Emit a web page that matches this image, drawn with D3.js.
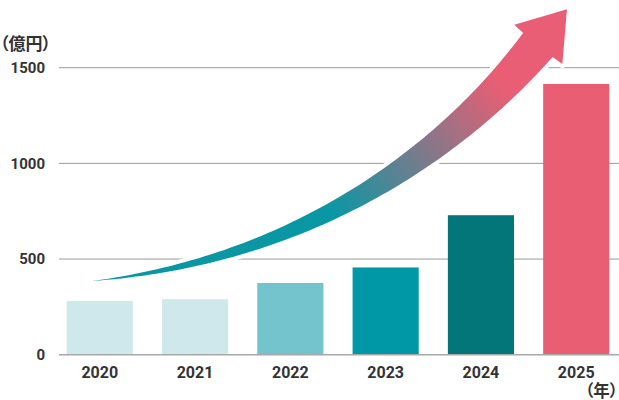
<!DOCTYPE html>
<html>
<head>
<meta charset="utf-8">
<script src="https://cdn.jsdelivr.net/npm/d3@7"></script>
<style>
  html, body { margin: 0; padding: 0; background: #fff; }
  svg { display: block; }
  .unit { font-feature-settings: "palt"; }
</style>
</head>
<body>
<svg id="chart" width="619" height="400"></svg>
<script>
// ---- data ----
const years = ["2020", "2021", "2022", "2023", "2024", "2025"];
const values = [281, 290, 375, 456, 729, 1415];
const yTicks = [0, 500, 1000, 1500];
const barColors = ["#cfe8eb", "#cfe8eb", "#73c4cc", "#0097a6", "#03767a", "#ea5e74"];
const yUnit = "（億円）";
const xUnit = "（年）";

// ---- layout ----
const W = 619, H = 400;
const svg = d3.select("#chart");
const y = d3.scaleLinear().domain([0, 1500]).range([354.7, 67.7]);
const x = d3.scaleBand().domain(years).range([66.7, 609.3]).paddingInner(0.306).paddingOuter(0);
const bw = x.bandwidth();
const gridX0 = 59, gridX1 = W;

const numFont = "Roboto, 'Noto Sans CJK JP', sans-serif";
const jpFont = "'Noto Sans CJK JP', sans-serif";
const textColor = "#333";

// gridlines
svg.append("g").selectAll("line").data(yTicks.filter(d => d > 0)).join("line")
  .attr("x1", gridX0).attr("x2", gridX1)
  .attr("y1", d => y(d)).attr("y2", d => y(d))
  .attr("stroke", "#9a9a9a").attr("stroke-width", 1);

// bars
svg.append("g").selectAll("rect").data(years).join("rect")
  .attr("x", d => x(d))
  .attr("width", bw)
  .attr("y", (d, i) => y(values[i]))
  .attr("height", (d, i) => y(0) - y(values[i]))
  .attr("fill", (d, i) => barColors[i]);

// baseline
svg.append("line")
  .attr("x1", gridX0).attr("x2", gridX1)
  .attr("y1", y(0)).attr("y2", y(0))
  .attr("stroke", "#a8a8a8").attr("stroke-width", 1.5);

// ---- growth arrow (decoration), anchored on scales ----
const P0 = [x("2020") + 0.38 * bw, y(385)];
const P1 = [x("2022") + 0.51 * bw, y(490)];
const P2 = [x("2024") - 0.08 * bw, y(1007)];
const P3 = [x("2025") - 0.08 * bw, y(1619)];   // neck centre
const TIP = [x("2025") + 0.36 * bw, y(1805)];

function bez(t) {
  const a = (1 - t) ** 3, b = 3 * (1 - t) ** 2 * t, c = 3 * (1 - t) * t * t, d = t ** 3;
  return [a * P0[0] + b * P1[0] + c * P2[0] + d * P3[0],
          a * P0[1] + b * P1[1] + c * P2[1] + d * P3[1]];
}
function bezD(t) {
  const a = 3 * (1 - t) ** 2, b = 6 * (1 - t) * t, c = 3 * t * t;
  return [a * (P1[0] - P0[0]) + b * (P2[0] - P1[0]) + c * (P3[0] - P2[0]),
          a * (P1[1] - P0[1]) + b * (P2[1] - P1[1]) + c * (P3[1] - P2[1])];
}
const neckHalf = 19, headHalf = 31;
const N = 80;
const sideA = [], sideB = [];
for (let i = 0; i <= N; i++) {
  const t = i / N;
  const p = bez(t), d = bezD(t);
  const L = Math.hypot(d[0], d[1]);
  const n = [-d[1] / L, d[0] / L];
  const h = neckHalf * t;
  sideA.push([p[0] + n[0] * h, p[1] + n[1] * h]);
  sideB.push([p[0] - n[0] * h, p[1] - n[1] * h]);
}
const ux = TIP[0] - P3[0], uy = TIP[1] - P3[1];
const uL = Math.hypot(ux, uy);
const u = [ux / uL, uy / uL];
const nn = [-u[1], u[0]];
const barbA = [P3[0] + nn[0] * headHalf + u[0] * 0.7, P3[1] + nn[1] * headHalf + u[1] * 0.7];
const barbB = [P3[0] - nn[0] * headHalf + u[0] * 0.7, P3[1] - nn[1] * headHalf + u[1] * 0.7];
const notchA = [P3[0] + nn[0] * neckHalf, P3[1] + nn[1] * neckHalf];
const notchB = [P3[0] - nn[0] * neckHalf, P3[1] - nn[1] * neckHalf];
const poly = [...sideA, notchA, barbA, TIP, barbB, notchB, ...sideB.slice().reverse()];

const g1 = bez(0.45), g2 = bez(0.88);
const defs = svg.append("defs");
const grad = defs.append("linearGradient").attr("id", "arrowGrad")
  .attr("gradientUnits", "userSpaceOnUse")
  .attr("x1", g1[0]).attr("y1", g1[1]).attr("x2", g2[0]).attr("y2", g2[1]);
grad.append("stop").attr("offset", 0).attr("stop-color", "#0a97a4");
grad.append("stop").attr("offset", 1).attr("stop-color", "#e95e74");

svg.append("path")
  .attr("d", d3.line()(poly) + "Z")
  .attr("fill", "url(#arrowGrad)")
  .attr("stroke", "#fff").attr("stroke-width", 8)
  .attr("stroke-linejoin", "round")
  .attr("paint-order", "stroke");

// ---- text ----
svg.append("g").selectAll("text").data(yTicks).join("text")
  .attr("x", 45).attr("y", d => y(d))
  .attr("dy", "0.36em")
  .attr("text-anchor", "end")
  .attr("font-family", numFont).attr("font-weight", "bold").attr("font-size", 15)
  .attr("fill", textColor)
  .text(d => d);

svg.append("g").selectAll("text").data(years).join("text")
  .attr("x", d => x(d) + bw / 2).attr("y", 377.5)
  .attr("text-anchor", "middle")
  .attr("font-family", numFont).attr("font-weight", "bold").attr("font-size", 16)
  .attr("fill", textColor)
  .text(d => d);

svg.append("text")
  .attr("class", "unit")
  .attr("x", 0).attr("y", 49.5)
  .attr("font-family", jpFont).attr("font-weight", "bold").attr("font-size", 17)
  .attr("fill", textColor)
  .text(yUnit);

svg.append("text")
  .attr("class", "unit")
  .attr("x", 618).attr("y", 396.5)
  .attr("text-anchor", "end")
  .attr("font-family", jpFont).attr("font-weight", "bold").attr("font-size", 16.5)
  .attr("fill", textColor)
  .text(xUnit);
</script>
</body>
</html>
